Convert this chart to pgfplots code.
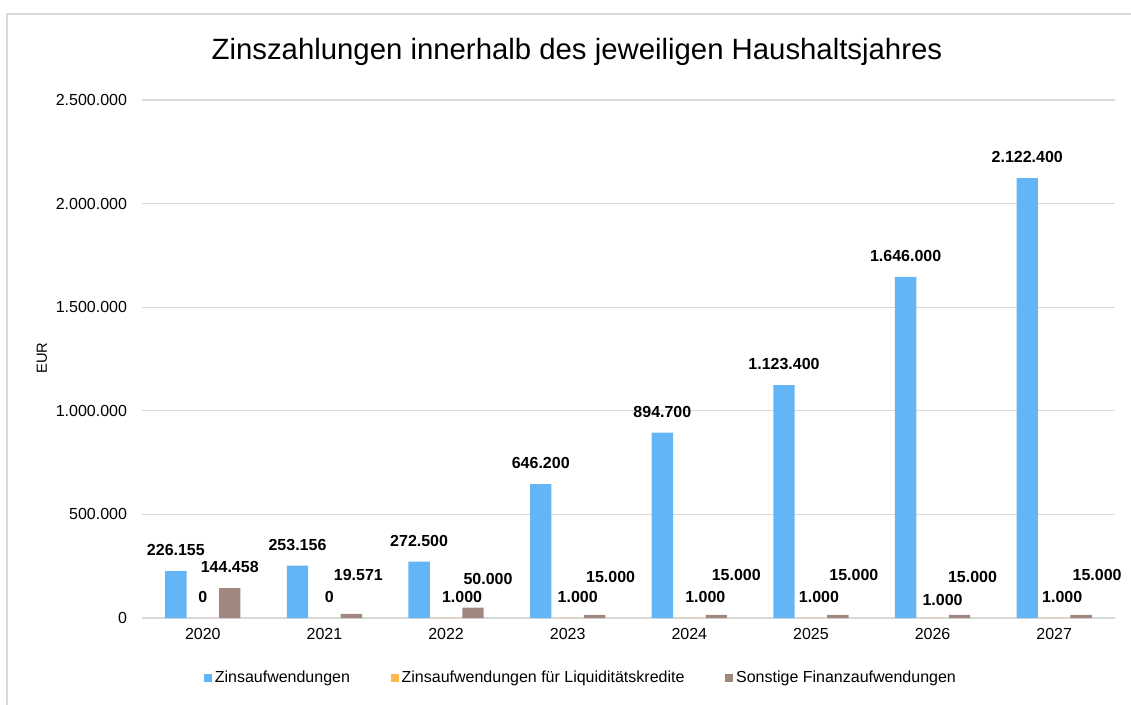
\documentclass[border=0pt]{standalone}
\usepackage{pgfplots}
\pgfplotsset{compat=1.18}
\usepackage{pgfplotstable}
\usepackage{fontspec}
\setmainfont{Liberation Sans}
\definecolor{cA}{RGB}{100,181,246}
\definecolor{cB}{RGB}{255,183,77}
\definecolor{cC}{RGB}{161,136,127}
\definecolor{gridc}{RGB}{217,217,217}

% x = year index, y = EUR, lab = data label, lx/ly = label offset in px
\pgfplotstableread{
x y lab lx ly
0 226155 226.155 0 21
1 253156 253.156 0 21
2 272500 272.500 0 21
3 646200 646.200 0 21
4 894700 894.700 0 21
5 1123400 1.123.400 0 21
6 1646000 1.646.000 0 21
7 2122400 2.122.400 0 21
}\zins
\pgfplotstableread{
x y lab lx ly
0 0 0 0 21
1 0 0 5 21
2 1000 1.000 16 21
3 1000 1.000 10 21
4 1000 1.000 16 21
5 1000 1.000 8 21
6 1000 1.000 10 18
7 1000 1.000 8 21
}\liqui
\pgfplotstableread{
x y lab lx ly
0 144458 144.458 0 21
1 19571 19.571 7 39
2 50000 50.000 15 29
3 15000 15.000 16 38
4 15000 15.000 20 40
5 15000 15.000 16 40
6 15000 15.000 13 38
7 15000 15.000 16 40
}\sonst

\begin{document}
\begin{tikzpicture}
\useasboundingbox (-106.5pt,-64.5pt) rectangle (741.75pt,463.5pt);
\draw[gridc, line width=1pt] (-101.25pt,-80pt) -- (-101.25pt,453pt) -- (760pt,453pt);
\begin{axis}[
    scale only axis, width=729.75pt, height=388.5pt,
    ybar=4.1pt, bar width=16.1pt,
    xmin=-0.5, xmax=7.5, ymin=0, ymax=2500000,
    xtick={0,...,7}, xticklabels={2020,2021,2022,2023,2024,2025,2026,2027},
    ytick={0,500000,1000000,1500000,2000000,2500000},
    scaled y ticks=false,
    /pgf/number format/assume math mode=true,
    yticklabel style={/pgf/number format/fixed, /pgf/number format/precision=0,
        /pgf/number format/1000 sep={.}, xshift=-7.75pt},
    tick label style={font=\fontsize{12}{14}\selectfont},
    xticklabel style={yshift=-4.5pt},
    major tick length=0pt,
    axis line style={draw=none},
    ymajorgrids, grid style={gridc, line width=1pt},
    title={Zinszahlungen innerhalb des jeweiligen Haushaltsjahres},
    title style={font=\fontsize{22}{26}\selectfont, at={(axis description cs:0.447,1)}, anchor=base, yshift=24.25pt},
    ylabel={EUR},
    ylabel style={font=\fontsize{11}{13}\selectfont, at={(axis description cs:-0.1028,0.502)}, anchor=center},
    legend style={at={(axis description cs:0.45,-0.1158)}, anchor=center, draw=none,
        legend columns=3, font=\fontsize{12}{14}\selectfont,
        nodes={inner sep=0pt},
        /tikz/every odd column/.append style={column sep=2.25pt},
        /tikz/every even column/.append style={column sep=30.5pt}},
    nodes near coords,
    point meta=explicit symbolic,
    visualization depends on={\thisrow{lx} \as \lx},
    visualization depends on={\thisrow{ly} \as \ly},
    nodes near coords style={font=\fontsize{12}{14}\selectfont\bfseries, anchor=center,
        xshift=\lx*0.75pt, yshift=\ly*0.75pt},
]
\addplot[fill=cA, draw=none, legend image code/.code={\fill[cA] (0pt,-3pt) rectangle (6pt,3pt);}]
    table[x=x, y=y, meta=lab] {\zins};
\addplot[fill=cB, draw=none, legend image code/.code={\fill[cB] (0pt,-3pt) rectangle (6pt,3pt);}]
    table[x=x, y=y, meta=lab] {\liqui};
\addplot[fill=cC, draw=none, legend image code/.code={\fill[cC] (0pt,-3pt) rectangle (6pt,3pt);}]
    table[x=x, y=y, meta=lab] {\sonst};
\legend{Zinsaufwendungen, Zinsaufwendungen für Liquiditätskredite, Sonstige Finanzaufwendungen}
\end{axis}
\end{tikzpicture}
\end{document}
